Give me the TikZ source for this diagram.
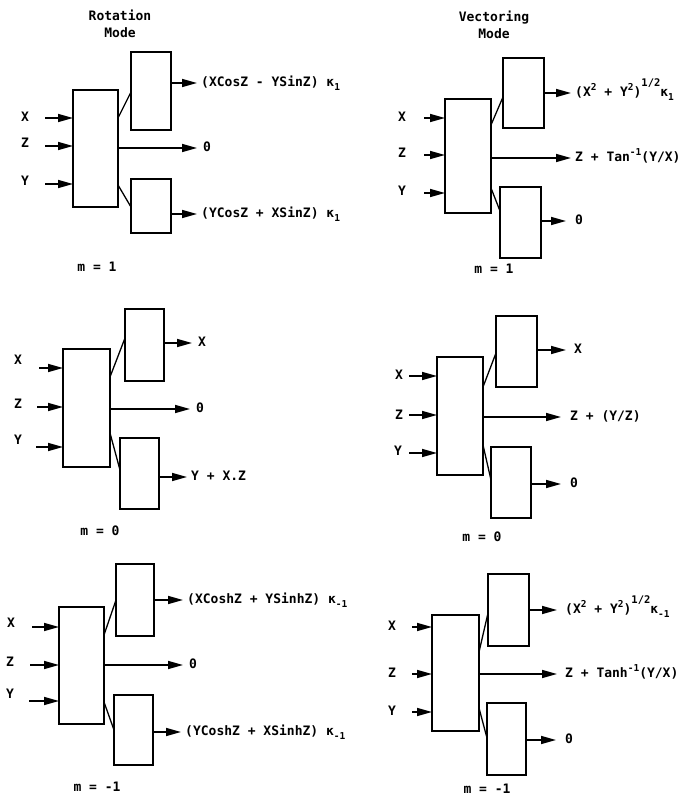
\documentclass[tikz,border=0pt]{standalone}
\usepackage{fontspec}
\setmonofont{DejaVu Sans Mono}
\usetikzlibrary{arrows.meta,calc,fit}
% raised / lowered indices in the typewriter face
\newcommand\lo[1]{\raisebox{-0.5ex}{\fontsize{9.5}{9.5}\selectfont #1}}
\newcommand\hi[1]{\raisebox{0.8ex}{\fontsize{9.5}{9.5}\selectfont #1}}
\newcommand\hh[1]{\raisebox{1.4ex}{\fontsize{10.5}{10.5}\selectfont #1}}
\tikzset{
  every node/.style={font=\ttfamily\bfseries\fontsize{13}{17}\selectfont},
  blk/.style={draw, line width=1.3pt, inner sep=0pt, outer sep=0pt},
  arr/.style={line width=1.6pt, -{Triangle[length=15pt,width=8pt]}},
  wire/.style={line width=1.3pt},
  inl/.style={inner sep=1pt},
  outl/.style={anchor=west, inner xsep=4pt, inner ysep=0pt, text height=9pt, text depth=2pt},
}
\begin{document}
\begin{tikzpicture}[x=1pt,y=-1pt]
\useasboundingbox (0,0) rectangle (688,802);

% ---------- column headings ----------
\node[align=center] (hrot) at (120,24) {Rotation\\Mode};
\node[align=center] (hvec) at (494,25) {Vectoring\\Mode};

% ---------- rotation, m = 1 ----------
\node[blk, fit={(73,90) (118,207)}] (m1) {};
\node[blk, fit={(131,52) (171,130)}] (u1) {};
\node[blk, fit={(131,179) (171,233)}] (d1) {};
\node[inl] (x1) at (25,117) {X};
\node[inl] (z1) at (25,143) {Z};
\node[inl] (y1) at (25,181) {Y};
\coordinate (ax1) at (45,118);
\coordinate (az1) at (45,146);
\coordinate (ay1) at (45,184);
\draw[arr] (ax1) -- (m1.west |- ax1);
\draw[arr] (az1) -- (m1.west |- az1);
\draw[arr] (ay1) -- (m1.west |- ay1);
\draw[wire] ($(m1.north east)!0.239!(m1.south east)$) -- ($(u1.north west)!0.513!(u1.south west)$);
\draw[wire] ($(m1.north east)!0.812!(m1.south east)$) -- ($(d1.north west)!0.519!(d1.south west)$);
\node[outl] (ou1) at (197,83) {(XCosZ - YSinZ) κ\lo{1}};
\node[outl, inner xsep=6pt] (om1) at (197,148) {0};
\node[outl] (od1) at (197,214) {(YCosZ + XSinZ) κ\lo{1}};
\draw[arr] (u1.east |- ou1.west) -- (ou1.west);
\draw[arr] (m1.east |- om1.west) -- (om1.west);
\draw[arr] (d1.east |- od1.west) -- (od1.west);
\node (n1) at (97,267) {m = 1};

% ---------- vectoring, m = 1 ----------
\node[blk, fit={(445,99) (491,213)}] (m2) {};
\node[blk, fit={(503,58) (544,128)}] (u2) {};
\node[blk, fit={(500,187) (541,258)}] (d2) {};
\node[inl] (x2) at (402,117) {X};
\node[inl] (z2) at (402,153) {Z};
\node[inl] (y2) at (402,191) {Y};
\coordinate (ax2) at (424,118);
\coordinate (az2) at (424,155);
\coordinate (ay2) at (424,193);
\draw[arr] (ax2) -- (m2.west |- ax2);
\draw[arr] (az2) -- (m2.west |- az2);
\draw[arr] (ay2) -- (m2.west |- ay2);
\draw[wire] ($(m2.north east)!0.228!(m2.south east)$) -- ($(u2.north west)!0.557!(u2.south west)$);
\draw[wire] ($(m2.north east)!0.781!(m2.south east)$) -- ($(d2.north west)!0.338!(d2.south west)$);
\node[outl] (ou2) at (571,93) {(X\hi{2} + Y\hi{2})\hh{1/2}κ\lo{1}};
\node[outl] (om2) at (571,158) {Z + Tan\hi{-1}(Y/X)};
\node[outl, inner xsep=9pt] (od2) at (566,221) {0};
\draw[arr] (u2.east |- ou2.west) -- (ou2.west);
\draw[arr] (m2.east |- om2.west) -- (om2.west);
\draw[arr] (d2.east |- od2.west) -- (od2.west);
\node (n2) at (494,269) {m = 1};

% ---------- rotation, m = 0 ----------
\node[blk, fit={(63,349) (110,467)}] (m3) {};
\node[blk, fit={(125,309) (164,381)}] (u3) {};
\node[blk, fit={(120,438) (159,509)}] (d3) {};
\node[inl] (x3) at (18,360) {X};
\node[inl] (z3) at (18,404) {Z};
\node[inl] (y3) at (18,440) {Y};
\coordinate (ax3) at (39,368);
\coordinate (az3) at (37,407);
\coordinate (ay3) at (36,447);
\draw[arr] (ax3) -- (m3.west |- ax3);
\draw[arr] (az3) -- (m3.west |- az3);
\draw[arr] (ay3) -- (m3.west |- ay3);
\draw[wire] ($(m3.north east)!0.237!(m3.south east)$) -- ($(u3.north west)!0.403!(u3.south west)$);
\draw[wire] ($(m3.north east)!0.712!(m3.south east)$) -- ($(d3.north west)!0.451!(d3.south west)$);
\node[outl, inner xsep=6pt] (ou3) at (192,343) {X};
\node[outl, inner xsep=6pt] (om3) at (190,409) {0};
\node[outl] (od3) at (187,477) {Y + X.Z};
\draw[arr] (u3.east |- ou3.west) -- (ou3.west);
\draw[arr] (m3.east |- om3.west) -- (om3.west);
\draw[arr] (d3.east |- od3.west) -- (od3.west);
\node (n3) at (100,531) {m = 0};

% ---------- vectoring, m = 0 ----------
\node[blk, fit={(437,357) (483,475)}] (m4) {};
\node[blk, fit={(496,316) (537,387)}] (u4) {};
\node[blk, fit={(491,447) (531,518)}] (d4) {};
\node[inl] (x4) at (399,375) {X};
\node[inl] (z4) at (399,415) {Z};
\node[inl] (y4) at (398,451) {Y};
\coordinate (ax4) at (409,376);
\coordinate (az4) at (409,415);
\coordinate (ay4) at (409,453);
\draw[arr] (ax4) -- (m4.west |- ax4);
\draw[arr] (az4) -- (m4.west |- az4);
\draw[arr] (ay4) -- (m4.west |- ay4);
\draw[wire] ($(m4.north east)!0.254!(m4.south east)$) -- ($(u4.north west)!0.521!(u4.south west)$);
\draw[wire] ($(m4.north east)!0.746!(m4.south east)$) -- ($(d4.north west)!0.465!(d4.south west)$);
\node[outl, inner xsep=8pt] (ou4) at (566,350) {X};
\node[outl, inner xsep=9pt] (om4) at (561,417) {Z + (Y/Z)};
\node[outl, inner xsep=9pt] (od4) at (561,484) {0};
\draw[arr] (u4.east |- ou4.west) -- (ou4.west);
\draw[arr] (m4.east |- om4.west) -- (om4.west);
\draw[arr] (d4.east |- od4.west) -- (od4.west);
\node (n4) at (482,537) {m = 0};

% ---------- rotation, m = -1 ----------
\node[blk, fit={(59,607) (104,724)}] (m5) {};
\node[blk, fit={(116,564) (154,636)}] (u5) {};
\node[blk, fit={(114,695) (153,765)}] (d5) {};
\node[inl] (x5) at (11,623) {X};
\node[inl] (z5) at (10,662) {Z};
\node[inl] (y5) at (10,694) {Y};
\coordinate (ax5) at (32,627);
\coordinate (az5) at (30,665);
\coordinate (ay5) at (29,701);
\draw[arr] (ax5) -- (m5.west |- ax5);
\draw[arr] (az5) -- (m5.west |- az5);
\draw[arr] (ay5) -- (m5.west |- ay5);
\draw[wire] ($(m5.north east)!0.239!(m5.south east)$) -- ($(u5.north west)!0.5!(u5.south west)$);
\draw[wire] ($(m5.north east)!0.812!(m5.south east)$) -- ($(d5.north west)!0.5!(d5.south west)$);
\node[outl] (ou5) at (183,600) {(XCoshZ + YSinhZ) κ\lo{-1}};
\node[outl, inner xsep=6pt] (om5) at (183,665) {0};
\node[outl] (od5) at (181,732) {(YCoshZ + XSinhZ) κ\lo{-1}};
\draw[arr] (u5.east |- ou5.west) -- (ou5.west);
\draw[arr] (m5.east |- om5.west) -- (om5.west);
\draw[arr] (d5.east |- od5.west) -- (od5.west);
\node (n5) at (97,787) {m = -1};

% ---------- vectoring, m = -1 ----------
\node[blk, fit={(432,615) (479,731)}] (m6) {};
\node[blk, fit={(488,574) (529,646)}] (u6) {};
\node[blk, fit={(487,703) (526,775)}] (d6) {};
\node[inl] (x6) at (392,626) {X};
\node[inl] (z6) at (392,673) {Z};
\node[inl] (y6) at (392,711) {Y};
\coordinate (ax6) at (412,627);
\coordinate (az6) at (412,674);
\coordinate (ay6) at (412,712);
\draw[arr] (ax6) -- (m6.west |- ax6);
\draw[arr] (az6) -- (m6.west |- az6);
\draw[arr] (ay6) -- (m6.west |- ay6);
\draw[wire] ($(m6.north east)!0.319!(m6.south east)$) -- ($(u6.north west)!0.542!(u6.south west)$);
\draw[wire] ($(m6.north east)!0.802!(m6.south east)$) -- ($(d6.north west)!0.486!(d6.south west)$);
\node[outl, inner xsep=8pt] (ou6) at (557,610) {(X\hi{2} + Y\hi{2})\hh{1/2}κ\lo{-1}};
\node[outl, inner xsep=8pt] (om6) at (557,674) {Z + Tanh\hi{-1}(Y/X)};
\node[outl, inner xsep=9pt] (od6) at (556,740) {0};
\draw[arr] (u6.east |- ou6.west) -- (ou6.west);
\draw[arr] (m6.east |- om6.west) -- (om6.west);
\draw[arr] (d6.east |- od6.west) -- (od6.west);
\node (n6) at (487,789) {m = -1};
\end{tikzpicture}
\end{document}
